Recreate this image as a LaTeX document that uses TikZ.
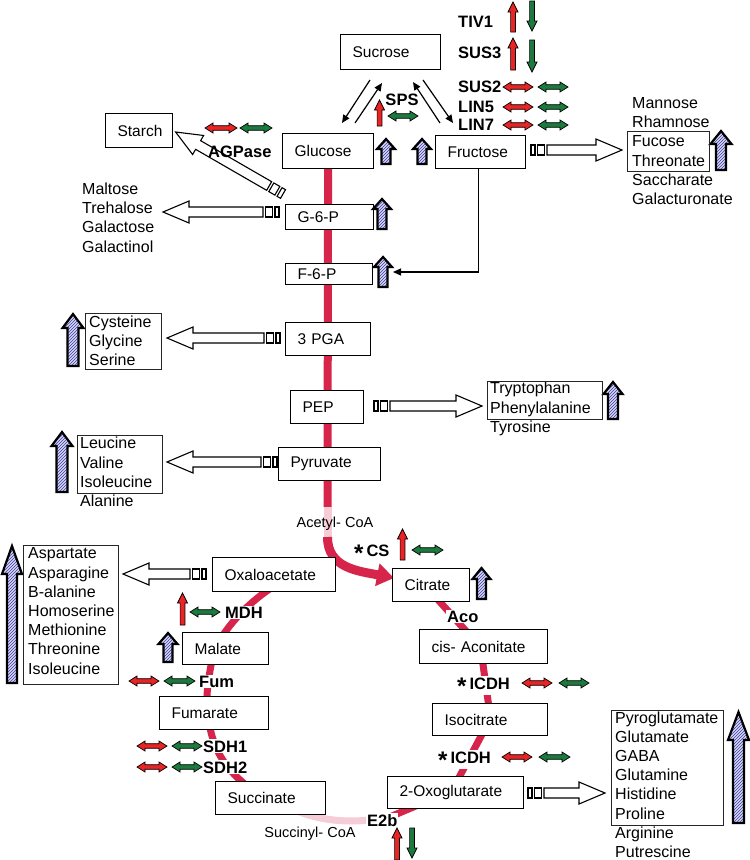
\documentclass[tikz,border=0pt]{standalone}
\usepackage{fontspec}
\setmainfont{Liberation Sans}
\usetikzlibrary{arrows.meta,patterns,calc}
\pgfdeclarelayer{background}
\pgfsetlayers{background,main}

\definecolor{pathred}{RGB}{215,36,74}
\definecolor{pathpink}{RGB}{246,204,214}
\definecolor{upred}{RGB}{232,36,36}
\definecolor{dngreen}{RGB}{28,122,62}
\definecolor{hatch}{RGB}{60,60,165}
\definecolor{hatchbg}{RGB}{214,214,242}

\newcommand{\boxfont}{\fontsize{15.5}{18}\selectfont}
\newcommand{\lfont}{\fontsize{16}{19.2}\selectfont}
\newcommand{\bfont}{\fontsize{16.5}{19}\selectfont\bfseries}
\newcommand{\sfont}{\fontsize{14.5}{17}\selectfont}
\newcommand{\astk}{\raisebox{-5pt}{\fontsize{24}{24}\selectfont *}\hspace{3pt}}

\newcommand{\metbox}[6]{%
  \pgfmathsetmacro{\mbw}{#4-#2-24}%
  \pgfmathsetmacro{\mbh}{#5-#3}%
  \node[metab, text width=\mbw pt, minimum height=\mbh pt, anchor=north west] (#1) at (#2,#3) {#6};}

\newcommand{\hatchup}[6]{%
  \draw[hatcharrow] (#1,#2) -- ({#1+#4},{#2+#6}) -- ({#1+#5},{#2+#6}) -- ({#1+#5},#3)
    -- ({#1-#5},#3) -- ({#1-#5},{#2+#6}) -- ({#1-#4},{#2+#6}) -- cycle;}

\newcommand{\vup}[4]{%
  \draw[smallarr, fill=#1] (#2,#3) -- ({#2+5},{#3+10}) -- ({#2+2.4},{#3+10}) -- ({#2+2.4},#4)
    -- ({#2-2.4},#4) -- ({#2-2.4},{#3+10}) -- ({#2-5},{#3+10}) -- cycle;}
\newcommand{\vdn}[4]{%
  \draw[smallarr, fill=#1] (#2,#4) -- ({#2+5},{#4-10}) -- ({#2+2.4},{#4-10}) -- ({#2+2.4},#3)
    -- ({#2-2.4},#3) -- ({#2-2.4},{#4-10}) -- ({#2-5},{#4-10}) -- cycle;}
\newcommand{\hdbl}[4]{%
  \draw[smallarr, fill=#1] (#2,#4) -- ({#2+8},{#4-5}) -- ({#2+8},{#4-2.3}) -- ({#3-8},{#4-2.3})
    -- ({#3-8},{#4-5}) -- (#3,#4) -- ({#3-8},{#4+5}) -- ({#3-8},{#4+2.3}) -- ({#2+8},{#4+2.3})
    -- ({#2+8},{#4+5}) -- cycle;}

\newcommand{\openarrow}[3]{%
  \begin{scope}[shift={#1}, rotate=#2]
    \draw[openarr] (0,-5) rectangle (4,5);
    \draw[openarr] (6.5,-5) rectangle (13.5,5);
    \draw[openarr] (16,-5) -- ({#3-26},-5) -- ({#3-26},-11) -- (#3,0) -- ({#3-26},11)
      -- ({#3-26},5) -- (16,5) -- cycle;
  \end{scope}}

\begin{document}
\begin{tikzpicture}[x=1pt,y=-1pt,
  metab/.style={draw, fill=white, line width=1.2pt, inner xsep=12pt, inner ysep=0pt, align=left, font=\boxfont},
  listtxt/.style={align=left, inner sep=0pt, font=\lfont},
  listbox/.style={draw=black!85, line width=0.9pt},
  lab/.style={font=\bfont, inner sep=1pt},
  wlab/.style={lab, fill=white},
  hatcharrow/.style={draw=black, line width=2.2pt, line join=miter, preaction={fill=hatchbg}, pattern=north east lines, pattern color=hatch},
  smallarr/.style={draw=black, line width=0.7pt},
  openarr/.style={draw=black, fill=white, line width=1.1pt},
  blk/.style={line width=1.2pt, -{Triangle[length=8pt,width=7pt]}},
  mainline/.style={draw=pathred, line width=8pt},
  tca/.style={draw=pathred, line width=7pt},
  pinkline/.style={draw=pathpink, line width=7pt},
]
\useasboundingbox (0,0) rectangle (750,860);
\begin{pgfonlayer}{background}
  \fill[white] (0,0) rectangle (750,860);
\end{pgfonlayer}

% ---------- metabolite boxes ----------
\metbox{sucrose}{340}{34}{440}{69}{Sucrose}
\metbox{glucose}{282}{133}{373}{168}{Glucose}
\metbox{fructose}{435}{135}{525}{168}{Fructose}
\metbox{starch}{105}{113}{172}{147}{Starch}
\metbox{gsixp}{285}{204}{373}{229}{G-6-P}
\metbox{fsixp}{285}{263}{372}{284}{F-6-P}
\metbox{pga}{285}{322}{370}{355}{3 PGA}
\metbox{pep}{290}{390}{363}{423}{PEP}
\metbox{pyruvate}{278}{447}{380}{480}{Pyruvate}
\metbox{oxa}{212}{557}{335}{591}{Oxaloacetate}
\metbox{citrate}{392}{568}{469}{601}{Citrate}
\metbox{cisaco}{419}{629}{547}{663}{cis- Aconitate}
\metbox{malate}{182}{632}{268}{664}{Malate}
\metbox{fumarate}{159}{696}{268}{729}{Fumarate}
\metbox{isocitrate}{432}{703}{547}{735}{Isocitrate}
\metbox{succinate}{215}{781}{325}{814}{Succinate}
\metbox{oxoglu}{387}{776}{523}{808}{2-Oxoglutarate}

% ---------- coordinates for connectors ----------
\coordinate (acA) at (327.5,507);
\coordinate (acB) at (327.5,537);
\coordinate (citin) at (394,578);
\coordinate (t1) at (277,584);
\coordinate (t2) at (217,645);
\coordinate (t3) at (214,650);
\coordinate (t4) at (207,712);
\coordinate (t5) at (208,715);
\coordinate (t6) at (262,797);
\coordinate (t7) at (285,805);
\coordinate (t8) at (392,816);
\coordinate (t9) at (430,800);
\coordinate (t10) at (455,785);
\coordinate (t11) at (487,725);
\coordinate (t12) at (490,715);
\coordinate (t13) at (481,650);
\coordinate (t14) at (474,640);
\coordinate (t15) at (432,593);

% ---------- pathway lines ----------
\begin{pgfonlayer}{background}
  \draw[mainline] (glucose.center) -- (acA);
  \draw[draw=pathpink, line width=8pt] (acA) -- (acB);
  \draw[draw=pathred, line width=9pt, -{Triangle[length=17pt,width=22pt]}]
    (acB) .. controls (327.5,568) and (358,571) .. (citin);
  \draw[tca] (t1) .. controls (255,598) and (232,618) .. (t2);
  \draw[tca] (t3) .. controls (209,675) and (206,690) .. (t4);
  \draw[tca] (t5) .. controls (212,750) and (225,772) .. (t6);
  \draw[pinkline] (t7) .. controls (315,822) and (355,825) .. (t8);
  \draw[tca] (t8) -- (t9);
  \draw[tca] (t10) -- (t11);
  \draw[tca] (t12) -- (t13);
  \draw[tca] (t14) -- (t15);
\end{pgfonlayer}

% ---------- black arrows ----------
\coordinate (s1a) at (370,80);  \coordinate (s1b) at (342,123);
\coordinate (s2a) at (355,123); \coordinate (s2b) at (382,83);
\coordinate (s3a) at (440,123); \coordinate (s3b) at (413,82);
\coordinate (s4a) at (423,80);  \coordinate (s4b) at (453,123);
\draw[blk] (s1a) -- (s1b);
\draw[blk] (s2a) -- (s2b);
\draw[blk] (s3a) -- (s3b);
\draw[blk] (s4a) -- (s4b);
\coordinate (f6in) at (393,272);
\draw[blk] ([xshift=-2pt]fructose.south) |- (f6in);

% ---------- open block arrows ----------
\openarrow{(283,194)}{150}{124}
\openarrow{(279,212)}{180}{116}
\openarrow{(280,338)}{180}{113}
\openarrow{(277,462)}{180}{110}
\openarrow{(206,574)}{180}{83}
\openarrow{(531,150)}{0}{91}
\openarrow{(374,406)}{0}{108}
\openarrow{(528,793)}{0}{77}

% ---------- enzyme labels ----------
\node[lab, anchor=west] (tiv1) at (457,22) {TIV1};
\node[lab, anchor=west] (sus3) at (457,53) {SUS3};
\node[lab, anchor=west] (sus2) at (457,87) {SUS2};
\node[lab, anchor=west] (lin5) at (457,107) {LIN5};
\node[lab, anchor=west] (lin7) at (457,125) {LIN7};
\node[lab] (sps) at (402,100) {SPS};
\node[lab, anchor=west] (agpase) at (207,152) {AGPase};
\node[lab, anchor=base west] (cs) at (353,556) {\astk CS};
\node[wlab, anchor=base west] (mdh) at (224,618) {MDH};
\node[wlab, anchor=base west] (fum) at (198,687) {Fum};
\node[wlab, anchor=base west] (sdh1) at (202,752) {SDH1};
\node[wlab, anchor=base west] (sdh2) at (202,773) {SDH2};
\node[wlab, anchor=base west] (aco) at (446,622) {Aco};
\node[wlab, anchor=base west] (icdh1) at (456,689) {\astk ICDH};
\node[wlab, anchor=base west] (icdh2) at (437,763) {\astk ICDH};
\node[wlab, anchor=base west] (e2b) at (366,826) {E2b};
\node[font=\sfont, inner sep=0pt] (acetyl) at (335,524) {Acetyl- CoA};
\node[font=\sfont, inner sep=0pt] (succoa) at (310,834) {Succinyl- CoA};

% ---------- red / green arrows ----------
\vup{upred}{513}{2}{32}   \vdn{dngreen}{532}{1}{31}
\vup{upred}{513}{38}{70}  \vdn{dngreen}{532}{40}{72}
\hdbl{upred}{503}{533}{87}  \hdbl{dngreen}{538}{568}{87}
\hdbl{upred}{503}{533}{107} \hdbl{dngreen}{538}{568}{107}
\hdbl{upred}{503}{533}{125} \hdbl{dngreen}{538}{568}{125}
\vup{upred}{379.5}{100}{126} \hdbl{dngreen}{388}{418}{116}
\hdbl{upred}{205}{237}{128} \hdbl{dngreen}{240}{272}{128}
\vup{upred}{402.5}{529}{560} \hdbl{dngreen}{412}{443}{550}
\vup{upred}{182.5}{593}{625} \hdbl{dngreen}{190}{220}{612}
\hdbl{upred}{129}{159}{681} \hdbl{dngreen}{164}{195}{681}
\hdbl{upred}{137}{167}{746} \hdbl{dngreen}{172}{202}{746}
\hdbl{upred}{137}{167}{767} \hdbl{dngreen}{172}{202}{767}
\hdbl{upred}{522}{552}{683} \hdbl{dngreen}{559}{589}{683}
\hdbl{upred}{502}{532}{757} \hdbl{dngreen}{539}{570}{757}
\vup{upred}{397}{828}{860} \vdn{dngreen}{412}{828}{858}

% ---------- hatched increase arrows ----------
\hatchup{386}{139}{164}{9}{4.5}{10}
\hatchup{422}{139}{164}{9}{4.5}{10}
\hatchup{382}{199}{229}{9}{4.5}{10}
\hatchup{383}{257}{287}{9}{4.5}{10}
\hatchup{721}{131}{170}{10.5}{5}{13}
\hatchup{73}{314}{366}{10.5}{5.5}{14}
\hatchup{62}{432}{492}{10.5}{5.5}{14}
\hatchup{613}{382}{419}{9.5}{5}{12}
\hatchup{481.5}{568}{599}{9}{4.5}{11}
\hatchup{168}{633}{662}{9.5}{4.5}{11}
\hatchup{12}{546}{683}{10}{5}{28}
\hatchup{738.5}{712}{823}{10.5}{5.5}{28}

% ---------- metabolite lists ----------
\node[listtxt, anchor=west] (frlist) at (632,151)
  {Mannose\\Rhamnose\\Fucose\\Threonate\\Saccharate\\Galacturonate};
\draw[listbox] (627,131) rectangle (709,171);
\node[listtxt, anchor=west] (mlist) at (82,217.5)
  {Maltose\\Trehalose\\Galactose\\Galactinol};
\node[listtxt, anchor=west] (cylist) at (89,341)
  {Cysteine\\Glycine\\Serine};
\draw[listbox] (85,313) rectangle (161,369);
\node[listtxt, anchor=west] (lelist) at (80,472)
  {Leucine\\Valine\\Isoleucine\\Alanine};
\draw[listbox] (77,435) rectangle (162,493);
\node[listtxt, anchor=west] (trlist) at (490,409)
  {Tryptophan\\Phenylalanine\\Tyrosine};
\draw[listbox] (487,381) rectangle (602,419);
\node[listtxt, anchor=west] (aslist) at (28,611)
  {Aspartate\\Asparagine\\B-alanine\\Homoserine\\Methionine\\Threonine\\Isoleucine};
\draw[listbox] (23,545) rectangle (118,684);
\node[listtxt, anchor=west] (pylist) at (615,784.5)
  {Pyroglutamate\\Glutamate\\GABA\\Glutamine\\Histidine\\Proline\\Arginine\\Putrescine};
\draw[listbox] (611,710) rectangle (723,825);
\end{tikzpicture}
\end{document}
